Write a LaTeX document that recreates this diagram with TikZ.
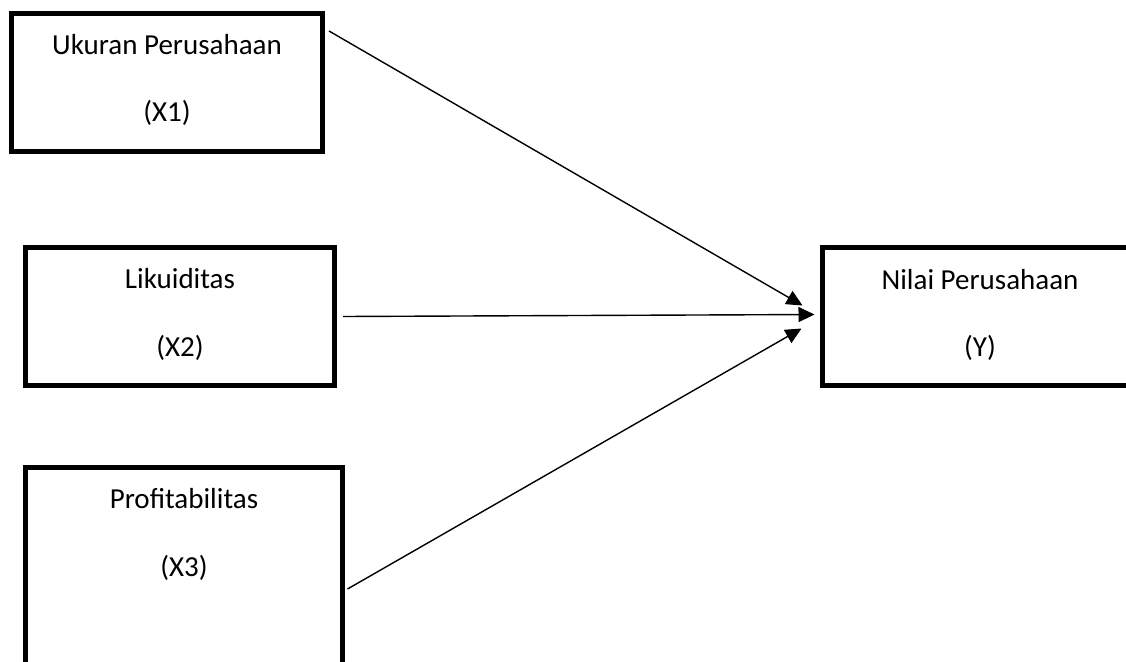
\documentclass[tikz,border=0pt]{standalone}
\usepackage{fontspec}
\setmainfont{Carlito}
\usetikzlibrary{arrows.meta}
\begin{document}
\begin{tikzpicture}[x=1pt, y=-1pt,
      box/.style={draw, line width=5pt, minimum width=#1, inner sep=0pt},
      txt/.style={font=\fontsize{29}{35}\selectfont, inner sep=0pt},
      link/.style={line width=1.4pt, -{Triangle[length=16pt, width=15pt]}}]
            \clip (0,0) rectangle (1126,661);
%            	\draw (0,0) grid (1126, 661) {};
            \node[box=311, minimum height=138] (x1box) at (167, 82.5) {};
            \node[box=309, minimum height=138] (x2box) at (180, 316.5) {};
            \node[box=317, minimum height=233] (x3box) at (184, 584) {};
            \node[box=338, minimum height=138] (ybox) at (991, 316.5) {};
            \node[txt] (x1) at (167, 45) {Ukuran Perusahaan};
            \node[txt] (x1v) at (167, 113) {(X1)};
            \node[txt] (x2) at (180, 279) {Likuiditas};
            \node[txt] (x2v) at (180, 348) {(X2)};
            \node[txt] (x3) at (184, 499) {Profitabilitas};
            \node[txt] (x3v) at (184, 568) {(X3)};
            \node[txt] (y) at (980, 280) {Nilai Perusahaan};
            \node[txt] (yv) at (980, 348) {(Y)};
            \draw[link] ([xshift=4pt, yshift=-20pt]x1box.north east) -- ([xshift=-17pt, yshift=11pt]ybox.west);
            \draw[link] ([xshift=6pt]x2box.east) -- ([xshift=-5pt, yshift=2pt]ybox.west);
            \draw[link] ([xshift=2.5pt, yshift=-124pt]x3box.north east) -- ([xshift=-18pt, yshift=-12pt]ybox.west);
      \end{tikzpicture}
\end{document}
